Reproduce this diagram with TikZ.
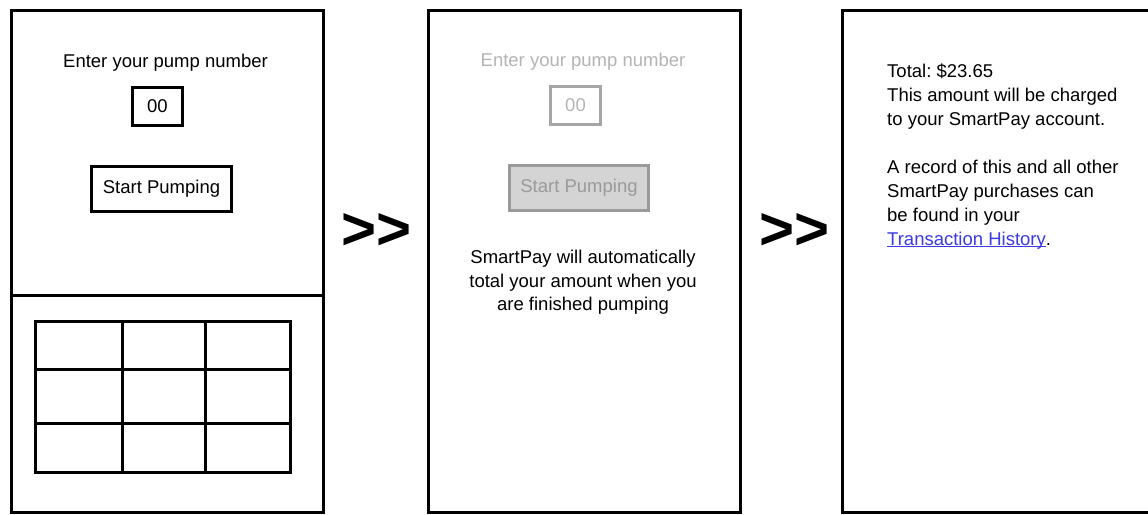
\documentclass[tikz,border=0pt]{standalone}
\usepackage{fontspec}
\setmainfont{Liberation Sans}
\definecolor{linkblue}{HTML}{3A3AE6}
\definecolor{ghosttext}{HTML}{B4B4B4}
\definecolor{ghostline}{HTML}{A6A6A6}
\definecolor{ghostfill}{HTML}{D4D4D4}
\definecolor{ghostbtn}{HTML}{9A9A9A}
\newcommand\mylink[1]{{\color{linkblue}\setbox0\hbox{#1}\rlap{\rule[-2.2pt]{\wd0}{1.3pt}}\box0}}
\begin{document}
\begin{tikzpicture}[x=1pt,y=-1pt,
  frame/.style={draw=black, line width=3pt},
  txt/.style={font=\fontsize{18.5}{22}\selectfont\frenchspacing, inner sep=0pt},
  boxed/.style={txt, draw=black, line width=3pt},
  ghostbox/.style={txt, draw=ghostline, line width=3pt, text=ghosttext},
  chev/.style={font=\fontsize{60}{60}\selectfont\bfseries, inner sep=0pt, anchor=base}]
\clip (0,0) rectangle (1148,514);
\fill[white] (0,0) rectangle (1148,514);

% Panel 1
\draw[frame] (11.5,10) rectangle (323.5,512);
\draw[frame] (11.5,295) -- (323.5,295);
\node[txt, anchor=base] (p1title) at (165.5,67) {Enter your pump number};
\node[boxed, minimum width=50, minimum height=38] (p1num) at (157.5,106.5) {00};
\node[boxed, minimum width=140, minimum height=45] (p1btn) at (161.5,189) {Start Pumping};
% keypad
\draw[frame] (35.5,321.5) rectangle (290.5,472.5);
\draw[frame] (122,321.5) -- (122,472.5);
\draw[frame] (205,321.5) -- (205,472.5);
\draw[frame] (35.5,369) -- (290.5,369);
\draw[frame] (35.5,423) -- (290.5,423);

% arrows
\node[chev] (arr1) at (376.5,249) {>{}>};
\node[chev] (arr2) at (794.5,249) {>{}>};

% Panel 2
\draw[frame] (428,10) rectangle (740,512);
\node[txt, anchor=base, text=ghosttext] (p2title) at (583,66) {Enter your pump number};
\node[ghostbox, minimum width=50, minimum height=38] (p2num) at (575.5,105.5) {00};
\node[ghostbox, fill=ghostfill, draw=ghostbtn, text=ghostbtn, minimum width=139, minimum height=45] (p2btn) at (579,188) {Start Pumping};
\node[txt, anchor=base] (p2l1) at (583,263) {SmartPay will automatically};
\node[txt, anchor=base] (p2l2) at (583,287) {total your amount when you};
\node[txt, anchor=base] (p2l3) at (583,310.5) {are finished pumping};

% Panel 3
\draw[frame] (842,10) rectangle (1170,512);
\node[txt, anchor=base west] (p3l1) at (887,77) {Total: \$23.65};
\node[txt, anchor=base west] (p3l2) at (887,101) {This amount will be charged};
\node[txt, anchor=base west] (p3l3) at (887,125) {to your SmartPay account.};
\node[txt, anchor=base west] (p3l4) at (887,173) {A record of this and all other};
\node[txt, anchor=base west] (p3l5) at (887,197) {SmartPay purchases can};
\node[txt, anchor=base west] (p3l6) at (887,221) {be found in your};
\node[txt, anchor=base west] (p3l7) at (887,245) {\mylink{Transaction History}.};
\end{tikzpicture}
\end{document}
